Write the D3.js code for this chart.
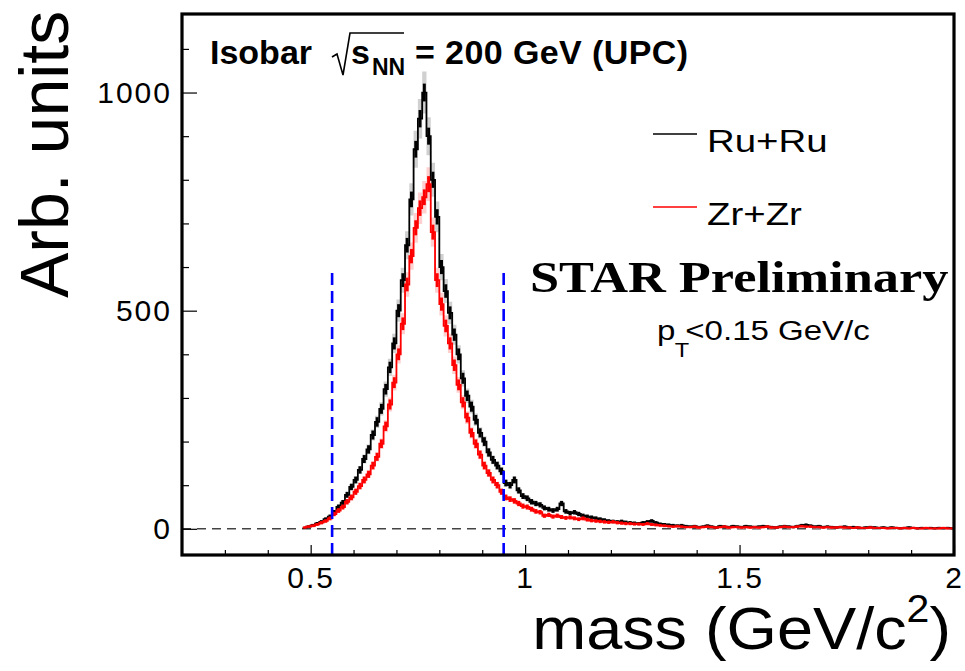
<!DOCTYPE html>
<html>
<head>
<meta charset="utf-8">
<script src="https://cdn.jsdelivr.net/npm/d3@7"></script>
<style>
body { margin: 0; background: #fff; }
svg text { font-family: "Liberation Sans", Arial, Helvetica, sans-serif; }
</style>
</head>
<body>
<svg id="chart" width="965" height="671"></svg>
<script>
// bin centres run from 0.485 to 1.995 GeV/c^2, width 0.01
var BIN_START = 0.48;
var BIN_WIDTH = 0.01;

var ruValues = [
	2,5,8,12,16,22,28,38,50,60,
	78,96,112,135,160,182,215,245,275,320,
	370,425,500,570,650,755,870,940,1000,900,
	800,715,600,545,495,445,400,345,305,280,
	250,220,200,175,158,145,132,105,100,112,
	88,75,70,62,58,55,48,45,42,45,
	58,40,36,38,34,30,28,26,24,22,
	20,18,17,16,17,15,14,13,12,14,
	16,18,14,11,10,9,8,7,8,6,
	5,6,4,5,7,5,3,6,5,4,
	6,5,4,6,5,4,5,6,5,4,
	3,5,6,5,4,6,8,9,7,5,
	6,4,5,4,3,4,5,3,4,3,
	2,3,4,3,2,3,2,3,2,1,
	2,3,2,1,2,1,2,1,2,1,
	2,1
];

var zrValues = [
	3,5,7,10,14,18,24,34,42,50,
	62,72,85,98,112,125,145,165,195,235,
	285,335,400,470,560,625,690,735,760,790,
	680,570,515,465,425,375,330,290,255,220,
	195,170,145,128,112,100,85,72,68,64,
	58,52,50,45,40,38,30,32,28,30,
	27,25,26,24,22,24,21,19,18,17,
	16,15,16,14,13,12,12,11,11,10,
	12,10,9,8,7,6,5,6,5,4,
	4,5,3,4,5,4,3,4,5,3,
	4,4,3,4,3,4,3,4,5,3,
	3,4,5,4,4,5,6,5,5,4,
	4,3,4,3,3,4,3,3,2,3,
	2,2,3,2,2,2,1,2,2,1,
	2,1,2,1,1,2,1,1,1,2,
	1,1
];

var xMajorTicks = [0.5, 1, 1.5, 2];
var xMinorTicks = [0.3, 0.4, 0.6, 0.7, 0.8, 0.9, 1.1, 1.2, 1.3, 1.4, 1.6, 1.7, 1.8, 1.9];
var yMajorTicks = [0, 500, 1000];
var yMinorTicks = [100, 200, 300, 400, 600, 700, 800, 900, 1100];
var windowCuts = [0.55, 0.95];
var CUT_TOP = 600;

var seriesNames = ["Ru+Ru", "Zr+Zr"];
var seriesColors = ["#000000", "#ff0000"];
var bandColors = ["#c8c8c8", "#ffc8c8"];

var frameL = 182, frameR = 954, frameT = 14, frameB = 555;

var svg = d3.select("#chart");

var x = d3.scaleLinear().domain([0.2, 2.0]).range([frameL, frameR]);
var y = d3.scaleLinear().domain([-60, 1180]).range([frameB, frameT]);

var toBins = function(vals) {
	return vals.map(function(v, i) {
		return {c: BIN_START + BIN_WIDTH * (i + 0.5), v: v};
	});
};
var series = [toBins(ruValues), toBins(zrValues)];

var plot = svg.append("g");

// zero line
plot.append("line")
	.attr("x1", frameL).attr("x2", frameR)
	.attr("y1", y(0)).attr("y2", y(0))
	.attr("stroke", "#444").attr("stroke-width", 1.5)
	.attr("stroke-dasharray", "9,6");

// systematic bands
var sys = function(v) { return 0.045 * v + 3; };
var band = d3.area()
	.x(function(d) { return x(d.c); })
	.y0(function(d) { return y(d.v - sys(d.v)); })
	.y1(function(d) { return y(d.v + sys(d.v)); })
	.curve(d3.curveStep);

series.forEach(function(s, k) {
	plot.append("path")
		.datum(s)
		.attr("d", band)
		.attr("fill", bandColors[k])
		.attr("opacity", 0.85);
});

// histograms with stat. error bars
var step = d3.line()
	.x(function(d) { return x(d.c); })
	.y(function(d) { return y(d.v); })
	.curve(d3.curveStep);

series.forEach(function(s, k) {
	var g = plot.append("g").attr("stroke", seriesColors[k]);
	g.append("path")
		.datum(s)
		.attr("d", step)
		.attr("fill", "none")
		.attr("stroke-width", 1.8);
	g.selectAll("line.e").data(s).enter().append("line")
		.attr("class", "e")
		.attr("x1", function(d) { return x(d.c); })
		.attr("x2", function(d) { return x(d.c); })
		.attr("y1", function(d) { return y(d.v - 0.6 * Math.sqrt(d.v) - 1.5); })
		.attr("y2", function(d) { return y(d.v + 0.6 * Math.sqrt(d.v) + 1.5); })
		.attr("stroke-width", 3);
});

// mass window
plot.selectAll("line.cut").data(windowCuts).enter().append("line")
	.attr("class", "cut")
	.attr("x1", function(d) { return x(d); })
	.attr("x2", function(d) { return x(d); })
	.attr("y1", y(-60)).attr("y2", y(CUT_TOP))
	.attr("stroke", "#0000ff").attr("stroke-width", 2.6)
	.attr("stroke-dasharray", "12,6");

// axes, ticks pointing inwards
var axisStyle = function(g) {
	g.select(".domain").remove();
	g.selectAll("line").attr("stroke", "#000").attr("stroke-width", 1.2);
	g.selectAll("text").attr("font-size", 30).attr("fill", "#000")
		.style("letter-spacing", "2px");
};

svg.append("g")
	.attr("transform", "translate(0," + frameB + ")")
	.call(d3.axisBottom(x).tickValues(xMinorTicks).tickSizeInner(-5).tickSizeOuter(0).tickFormat(""))
	.call(axisStyle);
svg.append("g")
	.attr("transform", "translate(0," + frameB + ")")
	.call(d3.axisBottom(x).tickValues(xMajorTicks).tickSizeInner(-10).tickSizeOuter(0)
		.tickPadding(12).tickFormat(d3.format("")))
	.call(axisStyle);

svg.append("g")
	.attr("transform", "translate(" + frameL + ",0)")
	.call(d3.axisLeft(y).tickValues(yMinorTicks).tickSizeInner(-7).tickSizeOuter(0).tickFormat(""))
	.call(axisStyle);
svg.append("g")
	.attr("transform", "translate(" + frameL + ",0)")
	.call(d3.axisLeft(y).tickValues(yMajorTicks).tickSizeInner(-15).tickSizeOuter(0)
		.tickPadding(10).tickFormat(d3.format("")))
	.call(axisStyle);

// frame
svg.append("rect")
	.attr("x", frameL).attr("y", frameT)
	.attr("width", frameR - frameL).attr("height", frameB - frameT)
	.attr("fill", "none").attr("stroke", "#000").attr("stroke-width", 3.2);

// axis titles
svg.append("text")
	.attr("transform", "translate(68,298) rotate(-90)")
	.attr("font-size", 68)
	.text("Arb. units");

var xt = svg.append("text")
	.attr("transform", "translate(951,649) scale(1.08,1)")
	.attr("text-anchor", "end")
	.attr("font-size", 60);
xt.append("tspan").text("mass (GeV/c");
xt.append("tspan").attr("font-size", 38).attr("dy", -27).text("2");
xt.append("tspan").attr("dy", 27).text(")");

// title
var title = svg.append("g").attr("font-weight", "bold");
title.append("text").attr("x", 210).attr("y", 64).attr("font-size", 34).text("Isobar");
title.append("path")
	.attr("d", "M332,57 L337,54 L343,75 L350,33 L404,33")
	.attr("fill", "none").attr("stroke", "#000").attr("stroke-width", 1.6);
title.append("text").attr("x", 351).attr("y", 64).attr("font-size", 34).text("s");
title.append("text").attr("x", 372).attr("y", 75).attr("font-size", 23).text("NN");
title.append("text").attr("x", 415).attr("y", 64).attr("font-size", 34)
	.style("letter-spacing", "0.4px").text("= 200 GeV (UPC)");

// legend
var legendY = [134, 207];
seriesNames.forEach(function(name, k) {
	svg.append("line")
		.attr("x1", 653).attr("x2", 697)
		.attr("y1", legendY[k]).attr("y2", legendY[k])
		.attr("stroke", seriesColors[k]).attr("stroke-width", 1.6);
	svg.append("text")
		.attr("transform", "translate(707," + (legendY[k] + 18) + ") scale(1.2,1)")
		.attr("font-size", 32)
		.text(name);
});

svg.append("text")
	.attr("transform", "translate(530,292) scale(1.19,1)")
	.style("font-family", "'Liberation Serif', 'Times New Roman', serif")
	.attr("font-weight", "bold")
	.attr("font-size", 44)
	.text("STAR Preliminary");

var pt = svg.append("g").attr("transform", "translate(657,340) scale(1.18,1)");
pt.append("text").attr("x", 0).attr("y", 0).attr("font-size", 28).text("p");
pt.append("text").attr("x", 15).attr("y", 17).attr("font-size", 20).text("T");
pt.append("text").attr("x", 24).attr("y", 0).attr("font-size", 28).text("<0.15 GeV/c");
</script>
</body>
</html>
